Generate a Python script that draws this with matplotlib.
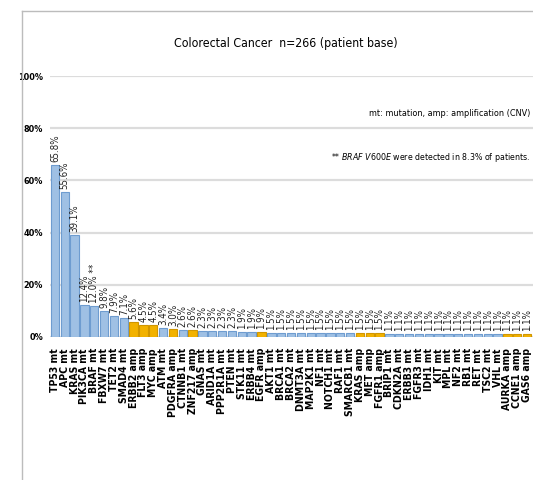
import numpy as np
import matplotlib
matplotlib.use("Agg")
import matplotlib.pyplot as plt
from matplotlib.lines import Line2D

plt.rcParams['font.family'] = ['DejaVu Sans']
plt.rcParams['font.stretch'] = 'condensed'

# alteration labels (mt = mutation, amp = amplification)
genes = ["TP53 mt", "APC mt", "KRAS mt", "PIK3CA mt", "BRAF mt", "FBXW7 mt",
         "TET2 mt", "SMAD4 mt", "ERBB2 amp", "FLT3 amp", "MYC amp", "ATM mt",
         "PDGFRA amp", "CTNNB1 mt", "ZNF217 amp", "GNAS mt", "ARID1A mt",
         "PPP2R1A mt", "PTEN mt", "STK11 mt", "ERBB4 mt", "EGFR amp",
         "AKT1 mt", "BRCA1 mt", "BRCA2 mt", "DNMT3A mt", "MAP2K1 mt", "NF1 mt",
         "NOTCH1 mt", "RAF1 mt", "SMARCB1 mt", "KRAS amp", "MET amp",
         "FGFR1 amp", "BRIP1 mt", "CDKN2A mt", "ERBB3 mt", "FGFR3 mt",
         "IDH1 mt", "KIT mt", "MPL mt", "NF2 mt", "RB1 mt", "RET mt",
         "TSC2 mt", "VHL mt", "AURKA amp", "CCNE1 amp", "GAS6 amp"]
pct = [65.8, 55.6, 39.1, 12.4, 12.0, 9.8, 7.9, 7.1, 5.6, 4.5, 4.5, 3.4,
       3.0, 2.6, 2.6, 2.3, 2.3, 2.3, 2.3, 1.9, 1.9, 1.9,
       1.5, 1.5, 1.5, 1.5, 1.5, 1.5, 1.5, 1.5, 1.5, 1.5, 1.5, 1.5,
       1.1, 1.1, 1.1, 1.1, 1.1, 1.1, 1.1, 1.1, 1.1, 1.1, 1.1, 1.1,
       1.1, 1.1, 1.1]
marks = {4: " **"}

fig = plt.figure(figsize=(5.33, 4.8), dpi=100)
ax = fig.add_axes([50/533, 143/480, 483/533, 261/480])

x = np.arange(len(genes))
colors = ['#f2b200' if g.endswith('amp') else '#9fc0e4' for g in genes]
edges = ['#d09600' if g.endswith('amp') else '#6e9cd0' for g in genes]
ax.bar(x, pct, width=0.85, color=colors, edgecolor=edges, linewidth=0.8, zorder=3)

for i, v in enumerate(pct):
    ax.text(i, v + 1.2, f"{v:.1f}%" + marks.get(i, ""), rotation=90,
            ha='center', va='bottom', fontsize=7, color='#222222', zorder=4)

ax.set_xlim(-0.5, 48.6)
ax.set_ylim(0, 100)
ax.set_yticks(np.arange(0, 101, 20))
ax.set_yticklabels([f"{t}%" for t in range(0, 101, 20)], fontsize=6.5, fontweight='bold')
ax.set_xticks(x)
ax.set_xticklabels(genes, rotation=90, fontsize=7.5, fontweight='bold')
ax.tick_params(axis='both', length=0)
ax.tick_params(axis='x', pad=8)
ax.tick_params(axis='y', pad=5)
ax.grid(axis='y', color='#dcdcdc', linewidth=1.6, zorder=0)
for s in ax.spines.values():
    s.set_visible(False)

fig.text(286/533, 1 - 43/480, "Colorectal Cancer  n=266 (patient base)",
         ha='center', va='center', fontsize=8.8)
fig.text(530/533, 1 - 113/480, "mt: mutation, amp: amplification (CNV)",
         ha='right', va='center', fontsize=6.5)
fig.text(530/533, 1 - 158/480,
         r"** $\mathit{BRAF\ V600E}$ were detected in 8.3% of patients.",
         ha='right', va='center', fontsize=6.3)

# chart frame (top and left edge)
fig.add_artist(Line2D([22/533, 1], [1 - 11/480, 1 - 11/480], color='#bcbcbc', linewidth=1))
fig.add_artist(Line2D([22/533, 22/533], [0, 1 - 11/480], color='#bcbcbc', linewidth=1))

fig.savefig("out.png", dpi=100)
